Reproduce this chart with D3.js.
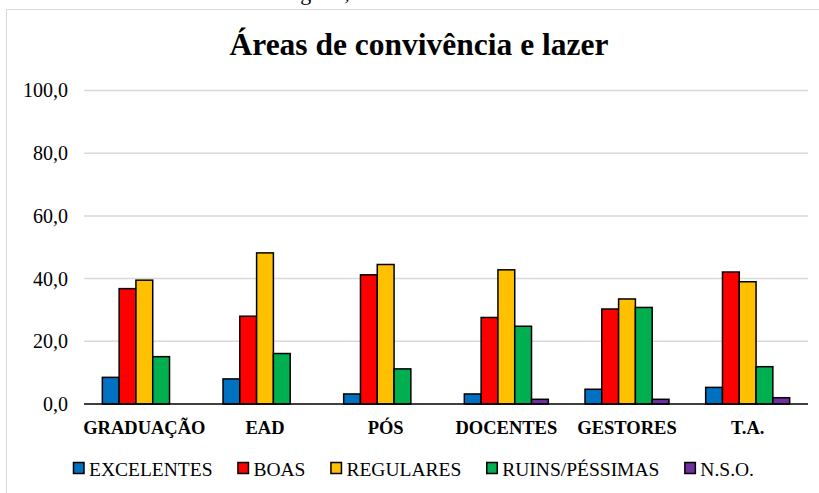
<!DOCTYPE html>
<html>
<head>
<meta charset="utf-8">
<script src="https://cdn.jsdelivr.net/npm/d3@7"></script>
<style>
  body { margin: 0; background: #fff; }
  svg { display: block; }
</style>
</head>
<body>
<div id="chart"></div>
<script>
// categorias e series
const categorias = ["GRADUAÇÃO", "EAD", "PÓS", "DOCENTES", "GESTORES", "T.A."];
const series = ["EXCELENTES", "BOAS", "REGULARES", "RUINS/PÉSSIMAS", "N.S.O."];
const cores = ["#0070C0", "#FF0000", "#FFC000", "#00B050", "#7030A0"];

const excelentes = [8.5, 8.0, 3.2, 3.2, 4.7, 5.3];
const boas = [36.8, 28.0, 41.2, 27.6, 30.3, 42.1];
const regulares = [39.5, 48.2, 44.5, 42.8, 33.5, 39.0];
const ruins = [15.1, 16.1, 11.2, 24.8, 30.8, 11.9];
const nso = [0, 0, 0, 1.5, 1.5, 2.0];

const yTicks = [0, 20, 40, 60, 80, 100];

const valores = [excelentes, boas, regulares, ruins, nso];

const W = 819, H = 493;
const svg = d3.select("#chart").append("svg")
  .attr("width", W).attr("height", H);

const serif = "'Liberation Serif', 'Times New Roman', serif";

// linha de texto cortada no topo (como no original)
svg.append("text")
  .attr("x", 26).attr("y", 0)
  .style("font-family", serif).style("font-size", "22px")
  .text("Gráfico 13 – Infraestrutura em geral, áreas de convivência e lazer");

// borda do grafico
svg.append("rect")
  .attr("x", 6.5).attr("y", 9.5)
  .attr("width", 830).attr("height", 500)
  .attr("fill", "#fff")
  .attr("stroke", "#d9d9d9").attr("stroke-width", 1);

// titulo
svg.append("text")
  .attr("x", 419).attr("y", 55)
  .attr("text-anchor", "middle")
  .style("font-family", serif).style("font-size", "31.5px").style("font-weight", "bold")
  .text("Áreas de convivência e lazer");

const x0 = d3.scaleBand().domain(categorias).range([84, 808])
  .paddingInner(0.304).paddingOuter(0.152);
const x1 = d3.scaleBand().domain(series).range([0, x0.bandwidth()]);
const y = d3.scaleLinear().domain([0, 100]).range([404, 90.5]);

// grade
svg.append("g").selectAll("line")
  .data(yTicks.filter(d => d > 0))
  .join("line")
  .attr("x1", 84).attr("x2", 808)
  .attr("y1", d => y(d)).attr("y2", d => y(d))
  .attr("stroke", "#d9d9d9").attr("stroke-width", 1.5);

// eixo y
const yAxis = svg.append("g")
  .attr("transform", "translate(68,0)")
  .call(d3.axisLeft(y).tickValues(yTicks).tickSize(0).tickPadding(0)
    .tickFormat(d => d3.format(".1f")(d).replace(".", ",")));
yAxis.select(".domain").remove();
yAxis.selectAll("text")
  .style("font-family", serif).style("font-size", "20px").attr("fill", "#000");

// barras
const grupos = svg.append("g").selectAll("g")
  .data(categorias)
  .join("g")
  .attr("transform", d => `translate(${x0(d)},0)`);

grupos.selectAll("rect")
  .data((c, i) => series.map((s, j) => ({ serie: s, valor: valores[j][i], cor: cores[j] }))
    .filter(d => d.valor > 0))
  .join("rect")
  .attr("x", d => x1(d.serie))
  .attr("y", d => y(d.valor))
  .attr("width", x1.bandwidth())
  .attr("height", d => y(0) - y(d.valor))
  .attr("fill", d => d.cor)
  .attr("stroke", "#000").attr("stroke-width", 1.5);

// eixo x
svg.append("line")
  .attr("x1", 84).attr("x2", 808)
  .attr("y1", y(0)).attr("y2", y(0))
  .attr("stroke", "#000").attr("stroke-width", 1.5);

svg.append("g").selectAll("text")
  .data(categorias)
  .join("text")
  .attr("x", d => x0(d) + x0.bandwidth() / 2)
  .attr("y", 434)
  .attr("text-anchor", "middle")
  .style("font-family", serif).style("font-size", "18.5px").style("font-weight", "bold")
  .text(d => d);

// legenda: itens entre x=73 e x=754
const leg = svg.append("g");
const itens = series.map((s, j) => {
  const g = leg.append("g");
  g.append("rect")
    .attr("x", 0.5).attr("y", 462.5)
    .attr("width", 10.5).attr("height", 11)
    .attr("fill", cores[j]).attr("stroke", "#000").attr("stroke-width", 1.5);
  const t = g.append("text")
    .attr("x", 16).attr("y", 475.5)
    .style("font-family", serif).style("font-size", "19.5px")
    .text(s);
  return { g, w: 16 + t.node().getComputedTextLength() };
});
const total = d3.sum(itens, d => d.w);
const gap = (754 - 73 - total) / (itens.length - 1);
let lx = 73;
itens.forEach(it => {
  it.g.attr("transform", `translate(${lx},0)`);
  lx += it.w + gap;
});
</script>
</body>
</html>
